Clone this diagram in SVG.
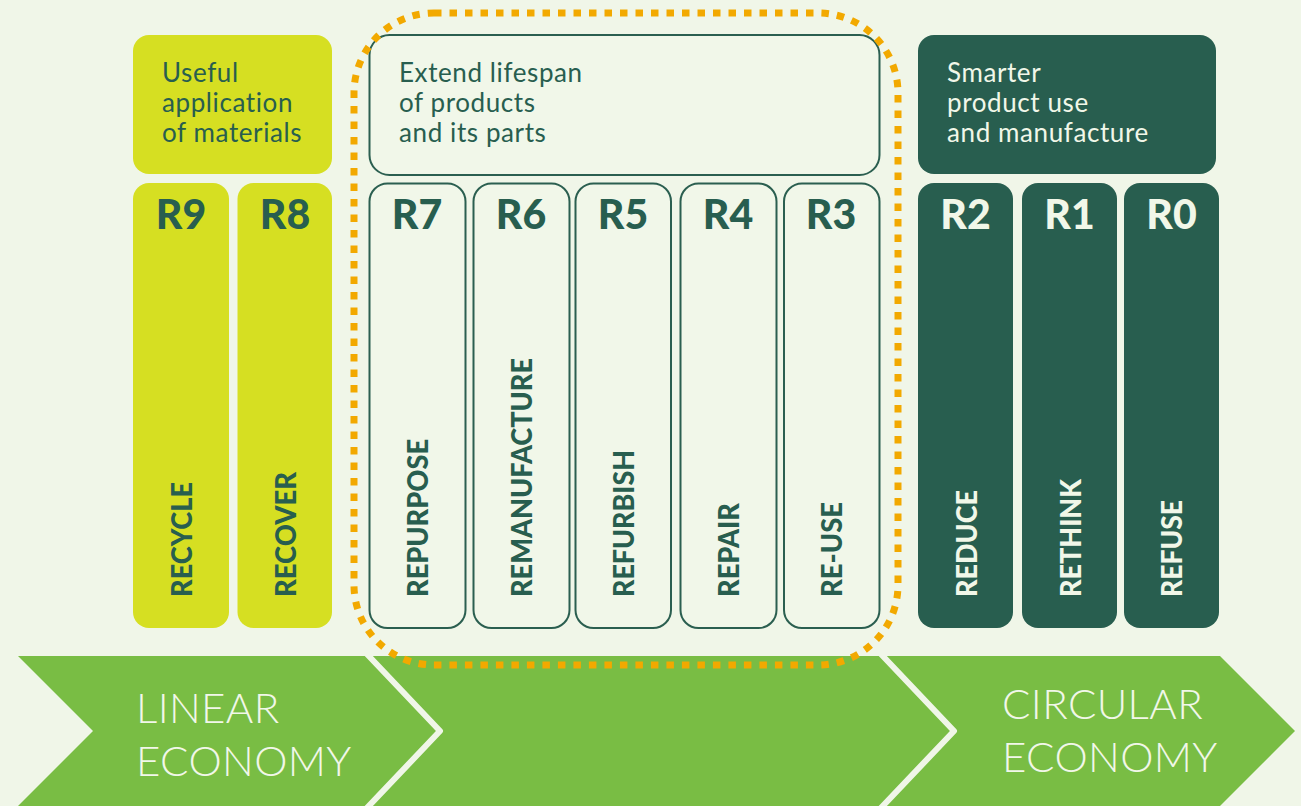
<svg xmlns="http://www.w3.org/2000/svg" width="1301" height="806" viewBox="0 0 1301 806">
<style>
.hd{font-family:Lato,"Noto Sans",sans-serif;font-size:26px;font-weight:400;letter-spacing:0.6px}
.rl{font-family:Lato,"Noto Sans",sans-serif;font-size:41px;font-weight:900;text-anchor:middle}
.vl{font-family:Lato,"Noto Sans",sans-serif;font-size:28px;font-weight:900}
.ec{font-family:Lato,"Noto Sans",sans-serif;font-size:42px;font-weight:300;fill:#f1f7e9;letter-spacing:0.4px}
.lime{fill:#d6df22}
.dark{fill:#285e4f}
.out{fill:#f1f7e9;stroke:#2b5f50;stroke-width:2}
.tdark{fill:#285e4f}
.tlight{fill:#f1f7e9}
</style>
<rect width="1301" height="806" fill="#f0f6e8"/>

<g id="band">
<polygon points="18,656 1220,656 1295,731 1220,806 18,806 93,731" fill="#79bd44"/>
<polyline points="365,652 440,731 365,810" fill="none" stroke="#f0f6e8" stroke-width="6" stroke-linejoin="round"/>
<polyline points="879,652 954,731 879,810" fill="none" stroke="#f0f6e8" stroke-width="6" stroke-linejoin="round"/>
<text class="ec" x="136" y="723">LINEAR</text>
<text class="ec" x="136" y="776">ECONOMY</text>
<text class="ec" x="1002" y="719">CIRCULAR</text>
<text class="ec" x="1002" y="772">ECONOMY</text>
</g>

<g id="useful">
<rect class="lime" x="133" y="35" width="199" height="139" rx="16"/>
<text class="hd tdark" x="162" y="82">Useful</text>
<text class="hd tdark" x="162" y="112">application</text>
<text class="hd tdark" x="162" y="142">of materials</text>
</g>
<g id="r9">
<rect class="lime" x="133" y="183" width="96" height="445" rx="16"/>
<text class="rl tdark" x="181" y="229">R9</text>
<text class="vl tdark" transform="translate(191.5,597) rotate(-90)" textLength="115" lengthAdjust="spacingAndGlyphs">RECYCLE</text>
</g>
<g id="r8">
<rect class="lime" x="237.5" y="183" width="94.5" height="445" rx="16"/>
<text class="rl tdark" x="285" y="229">R8</text>
<text class="vl tdark" transform="translate(295.5,597) rotate(-90)" textLength="125" lengthAdjust="spacingAndGlyphs">RECOVER</text>
</g>

<g id="extend">
<rect class="out" x="369.5" y="35" width="510" height="140" rx="20"/>
<text class="hd tdark" x="399" y="82">Extend lifespan</text>
<text class="hd tdark" x="399" y="112">of products</text>
<text class="hd tdark" x="399" y="142">and its parts</text>
</g>
<g id="r7">
<rect class="out" x="369.5" y="183.5" width="96" height="444.5" rx="18"/>
<text class="rl tdark" x="417" y="229">R7</text>
<text class="vl tdark" transform="translate(428,597) rotate(-90)" textLength="158" lengthAdjust="spacingAndGlyphs">REPURPOSE</text>
</g>
<g id="r6">
<rect class="out" x="473.5" y="183.5" width="96" height="444.5" rx="18"/>
<text class="rl tdark" x="521" y="229">R6</text>
<text class="vl tdark" transform="translate(532,597) rotate(-90)" textLength="239" lengthAdjust="spacingAndGlyphs">REMANUFACTURE</text>
</g>
<g id="r5">
<rect class="out" x="575.5" y="183.5" width="95.5" height="444.5" rx="18"/>
<text class="rl tdark" x="623" y="229">R5</text>
<text class="vl tdark" transform="translate(634,597) rotate(-90)" textLength="147" lengthAdjust="spacingAndGlyphs">REFURBISH</text>
</g>
<g id="r4">
<rect class="out" x="680.5" y="183.5" width="96" height="444.5" rx="18"/>
<text class="rl tdark" x="728" y="229">R4</text>
<text class="vl tdark" transform="translate(739,597) rotate(-90)" textLength="94" lengthAdjust="spacingAndGlyphs">REPAIR</text>
</g>
<g id="r3">
<rect class="out" x="784" y="183.5" width="95.5" height="444.5" rx="18"/>
<text class="rl tdark" x="831" y="229">R3</text>
<text class="vl tdark" transform="translate(842,597) rotate(-90)" textLength="95" lengthAdjust="spacingAndGlyphs">RE-USE</text>
</g>

<g id="smarter">
<rect class="dark" x="918" y="35" width="298" height="139" rx="16"/>
<text class="hd tlight" x="947" y="82">Smarter</text>
<text class="hd tlight" x="947" y="112">product use</text>
<text class="hd tlight" x="947" y="142">and manufacture</text>
</g>
<g id="r2">
<rect class="dark" x="918" y="183" width="95" height="445" rx="16"/>
<text class="rl tlight" x="965.5" y="229">R2</text>
<text class="vl tlight" transform="translate(976.5,597) rotate(-90)" textLength="107" lengthAdjust="spacingAndGlyphs">REDUCE</text>
</g>
<g id="r1">
<rect class="dark" x="1022" y="183" width="95" height="445" rx="16"/>
<text class="rl tlight" x="1069.5" y="229">R1</text>
<text class="vl tlight" transform="translate(1080.5,597) rotate(-90)" textLength="118" lengthAdjust="spacingAndGlyphs">RETHINK</text>
</g>
<g id="r0">
<rect class="dark" x="1124" y="183" width="95" height="445" rx="16"/>
<text class="rl tlight" x="1171.5" y="229">R0</text>
<text class="vl tlight" transform="translate(1182,597) rotate(-90)" textLength="97" lengthAdjust="spacingAndGlyphs">REFUSE</text>
</g>

<g id="connectors">
<rect id="focus" x="354" y="13" width="544" height="652" rx="80" fill="none" stroke="#f2a900" stroke-width="7" stroke-dasharray="7.5 8"/>
</g>
</svg>
